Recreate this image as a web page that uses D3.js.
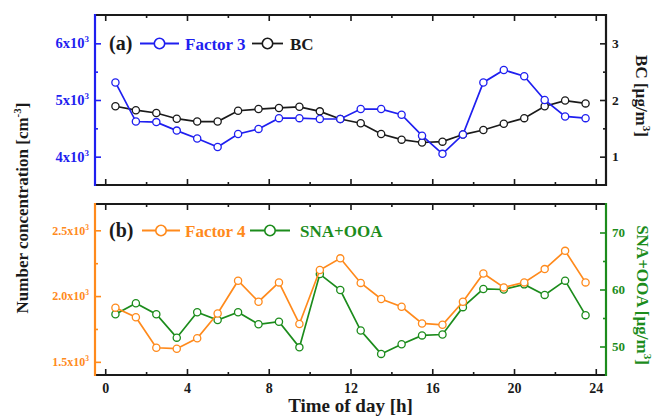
<!DOCTYPE html>
<html>
<head>
<meta charset="utf-8">
<script src="https://cdn.jsdelivr.net/npm/d3@7"></script>
<style>
  html, body { margin: 0; padding: 0; background: #fff; }
  svg { display: block; font-family: "Liberation Serif", "Times New Roman", serif; font-weight: bold; }
</style>
</head>
<body>
<svg id="chart" width="654" height="418"></svg>
<script>
// Hour of day (bin centres)
const hours = [0.5, 1.5, 2.5, 3.5, 4.5, 5.5, 6.5, 7.5, 8.5, 9.5, 10.5, 11.5,
               12.5, 13.5, 14.5, 15.5, 16.5, 17.5, 18.5, 19.5, 20.5, 21.5, 22.5, 23.5];

// Panel (a): Factor 3 number concentration [cm^-3] and BC mass [µg/m^3]
const factor3 = [5310, 4620, 4610, 4460, 4320, 4170, 4400, 4490, 4680, 4680, 4665, 4665,
                 4840, 4840, 4740, 4370, 4050, 4390, 5310, 5530, 5420, 5000, 4710, 4680];
const bc = [1.89, 1.82, 1.77, 1.67, 1.62, 1.62, 1.81, 1.84, 1.86, 1.88, 1.80, 1.665,
            1.59, 1.40, 1.30, 1.25, 1.265, 1.39, 1.47, 1.58, 1.68, 1.89, 1.99, 1.94];

// Panel (b): Factor 4 number concentration [cm^-3] and SNA+OOA mass [µg/m^3]
const factor4 = [1912, 1839, 1607, 1600, 1679, 1868, 2117, 1957, 2104, 1788, 2198, 2287,
                 2100, 1978, 1919, 1792, 1782, 1957, 2172, 2066, 2104, 2205, 2344, 2104];
const snaOoa = [55.65, 57.6, 55.65, 51.55, 56.0, 54.65, 56.0, 53.9, 54.35, 49.85, 62.7, 59.9,
                52.8, 48.7, 50.4, 51.95, 52.1, 56.9, 60.1, 60.0, 60.9, 59.05, 61.55, 55.5];

// Axis ticks
const xMajor = [0, 4, 8, 12, 16, 20, 24];
const xMinor = [2, 6, 10, 14, 18, 22];
const f3Major = [4000, 5000, 6000];
const f3Minor = [4500, 5500];
const bcMajor = [1, 2, 3];
const bcMinor = [1.5, 2.5];
const f4Major = [1500, 2000, 2500];
const f4Minor = [1750, 2250];
const snaMajor = [50, 60, 70];
const snaMinor = [55, 65];

const BLUE = "#1f1ff0", BLACK = "#1a1a1a", ORANGE = "#ff8a1c", GREEN = "#1c8c1c";

const svg = d3.select("#chart");
const L = 95, R = 606;
const x = d3.scaleLinear([-0.5, 24.5], [L, R]);

const pA = { top: 15, bottom: 185 };
const pB = { top: 204, bottom: 375 };

const yF3 = d3.scaleLinear([3500, 6500], [pA.bottom, pA.top]);
const yBC = d3.scaleLinear([0.5, 3.5], [pA.bottom, pA.top]);
const yF4 = d3.scaleLinear([1400, 2700], [pB.bottom, pB.top]);
const ySNA = d3.scaleLinear([45, 75], [pB.bottom, pB.top]);

// Writes "m x10^e" style tick text with a raised exponent
function sciLabel(sel, mant, fs) {
  sel.text(null);
  sel.append("tspan").text(mant + "x10");
  sel.append("tspan").attr("dy", -fs * 0.42).attr("font-size", fs * 0.62).text("3");
}

function drawTicks(g, axisFn, scale, major, minor, color, fontSize, fmt, padding) {
  const gMin = g.append("g").call(axisFn(scale).tickValues(minor).tickSize(-3).tickFormat(""));
  const gMaj = g.append("g").call(axisFn(scale).tickValues(major).tickSize(-6).tickPadding(padding).tickFormat(fmt || (() => "")));
  [gMin, gMaj].forEach(s => {
    s.select(".domain").remove();
    s.selectAll(".tick line").attr("stroke", color).attr("stroke-width", 1.6);
    s.selectAll(".tick text").attr("fill", color).attr("font-size", fontSize)
      .attr("font-family", "Liberation Serif, serif").attr("font-weight", "bold");
  });
  return gMaj;
}

function panel(p, yLeft, yRight, leftColor, rightColor, opts) {
  const g = svg.append("g");
  // x ticks on top and bottom edges
  drawTicks(g.append("g").attr("transform", `translate(0,${p.top})`), d3.axisTop, x, xMajor, xMinor, BLACK, 13, null, 3);
  drawTicks(g.append("g").attr("transform", `translate(0,${p.bottom})`), d3.axisBottom, x, xMajor, xMinor, BLACK, 14,
    opts.xLabels ? d3.format("d") : null, 8);
  // left axis
  const gl = drawTicks(g.append("g").attr("transform", `translate(${L},0)`), d3.axisLeft, yLeft, opts.lMajor, opts.lMinor, leftColor, opts.lFs, d => d, 6);
  gl.selectAll(".tick text").each(function (d) { sciLabel(d3.select(this), opts.lFmt(d), opts.lFs); });
  // right axis
  drawTicks(g.append("g").attr("transform", `translate(${R},0)`), d3.axisRight, yRight, opts.rMajor, opts.rMinor, rightColor, opts.rFs, d3.format("d"), 6);
  // frame
  g.append("line").attr("x1", L).attr("x2", R).attr("y1", p.top).attr("y2", p.top).attr("stroke", BLACK).attr("stroke-width", 2);
  g.append("line").attr("x1", L).attr("x2", R).attr("y1", p.bottom).attr("y2", p.bottom).attr("stroke", BLACK).attr("stroke-width", 2);
  g.append("line").attr("x1", L).attr("x2", L).attr("y1", p.top - 1).attr("y2", p.bottom + 1).attr("stroke", leftColor).attr("stroke-width", 2.2);
  g.append("line").attr("x1", R).attr("x2", R).attr("y1", p.top - 1).attr("y2", p.bottom + 1).attr("stroke", rightColor).attr("stroke-width", 2.2);
  return g;
}

function series(vals, yScale, color) {
  const pts = hours.map((h, i) => [h, vals[i]]);
  const g = svg.append("g");
  g.append("path").datum(pts)
    .attr("fill", "none").attr("stroke", color).attr("stroke-width", 1.7)
    .attr("d", d3.line().x(d => x(d[0])).y(d => yScale(d[1])));
  g.selectAll("circle").data(pts).join("circle")
    .attr("cx", d => x(d[0])).attr("cy", d => yScale(d[1])).attr("r", 3.6)
    .attr("fill", "#fff").attr("stroke", color).attr("stroke-width", 1.3);
}

function legendItem(x0, x1, cy, color, label, tx) {
  svg.append("line").attr("x1", x0).attr("x2", x1).attr("y1", cy).attr("y2", cy).attr("stroke", color).attr("stroke-width", 1.8);
  svg.append("circle").attr("cx", (x0 + x1) / 2).attr("cy", cy).attr("r", 5.2).attr("fill", "#fff").attr("stroke", color).attr("stroke-width", 1.6);
  svg.append("text").attr("x", tx).attr("y", cy + 6).attr("font-size", 17).attr("fill", color).text(label);
}

// Panel (a)
panel(pA, yF3, yBC, BLUE, BLACK, {
  lMajor: f3Major, lMinor: f3Minor, lFs: 14.5, lFmt: d => d / 1000,
  rMajor: bcMajor, rMinor: bcMinor, rFs: 13.5, xLabels: false
});
series(bc, yBC, BLACK);
series(factor3, yF3, BLUE);

// Panel (b)
panel(pB, yF4, ySNA, ORANGE, GREEN, {
  lMajor: f4Major, lMinor: f4Minor, lFs: 12, lFmt: d => (d / 1000).toFixed(1),
  rMajor: snaMajor, rMinor: snaMinor, rFs: 13, xLabels: true
});
series(snaOoa, ySNA, GREEN);
series(factor4, yF4, ORANGE);

// Legends
svg.append("text").attr("x", 109).attr("y", 50).attr("font-size", 20).attr("fill", BLACK).text("(a)");
legendItem(140, 179, 43.5, BLUE, "Factor 3", 185);
legendItem(252, 283, 43.5, BLACK, "BC", 290);

svg.append("text").attr("x", 109).attr("y", 237).attr("font-size", 20).attr("fill", BLACK).text("(b)");
legendItem(142, 180, 230.5, ORANGE, "Factor 4", 185);
legendItem(250, 290, 230.5, GREEN, "SNA+OOA", 300);

// Axis titles
const yt = svg.append("text").attr("transform", "translate(28,208) rotate(-90)")
  .attr("text-anchor", "middle").attr("font-size", 17).attr("fill", BLACK);
yt.append("tspan").text("Number concentration [cm");
yt.append("tspan").attr("dy", -7).attr("font-size", 11).text("-3");
yt.append("tspan").attr("dy", 7).text("]");

function rightTitle(cx, cy, main, color) {
  const t = svg.append("text").attr("transform", `translate(${cx},${cy}) rotate(90)`)
    .attr("text-anchor", "middle").attr("font-size", 17).attr("fill", color);
  t.append("tspan").text(main + " [\u00b5g/m");
  t.append("tspan").attr("dy", -7).attr("font-size", 11).text("3");
  t.append("tspan").attr("dy", 7).text("]");
}
rightTitle(636, 96, "BC", BLACK);
rightTitle(637, 295, "SNA+OOA", GREEN);

svg.append("text").attr("x", (L + R) / 2).attr("y", 412).attr("text-anchor", "middle")
  .attr("font-size", 19).attr("fill", BLACK).text("Time of day [h]");
</script>
</body>
</html>
